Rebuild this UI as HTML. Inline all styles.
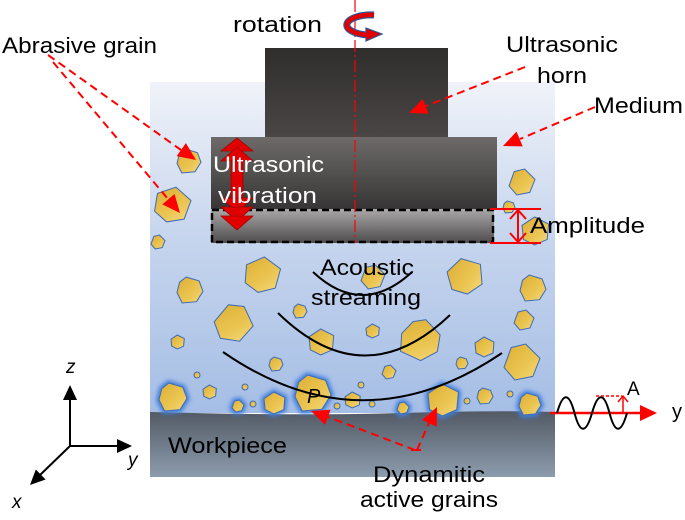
<!DOCTYPE html>
<html><head><meta charset="utf-8"><style>
html,body{margin:0;padding:0;background:#fff;}
svg{display:block;}
text{font-family:"Liberation Sans",sans-serif;}
</style></head><body>
<svg width="685" height="520" viewBox="0 0 685 520" xmlns="http://www.w3.org/2000/svg">
<defs>
<linearGradient id="med" x1="0" y1="0" x2="0" y2="1">
<stop offset="0" stop-color="#f0f3f9"/><stop offset="0.45" stop-color="#c8d6ee"/><stop offset="1" stop-color="#a5bee5"/>
</linearGradient>
<linearGradient id="wp" x1="0" y1="0" x2="0" y2="1">
<stop offset="0" stop-color="#525a64"/><stop offset="1" stop-color="#8d9cae"/>
</linearGradient>
<linearGradient id="h1" x1="0" y1="0" x2="0" y2="1">
<stop offset="0" stop-color="#302d2d"/><stop offset="1" stop-color="#4a4646"/>
</linearGradient>
<linearGradient id="h2" x1="0" y1="0" x2="0" y2="1">
<stop offset="0" stop-color="#6e6a6a"/><stop offset="1" stop-color="#363434"/>
</linearGradient>
<linearGradient id="h3" x1="0" y1="0" x2="0" y2="1">
<stop offset="0" stop-color="#aaa8a8"/><stop offset="1" stop-color="#4d4b4b"/>
</linearGradient>
<linearGradient id="gold" x1="0" y1="0" x2="1" y2="1">
<stop offset="0" stop-color="#dcae34"/><stop offset="0.6" stop-color="#ebc552"/><stop offset="1" stop-color="#f6da80"/>
</linearGradient>
<filter id="blur" x="-50%" y="-50%" width="200%" height="200%"><feGaussianBlur stdDeviation="2.2"/></filter>
<polygon id="g1" points="-3,-10 7,-7 10,1 5,9 -6,10 -10,2 -8,-6" vector-effect="non-scaling-stroke"/>
<polygon id="g2" points="-1,-10 9,-5 8,6 -1,10 -9,6 -10,-4" vector-effect="non-scaling-stroke"/>
<polygon id="g3" points="2,-10 10,-2 6,8 -4,10 -10,3 -6,-8" vector-effect="non-scaling-stroke"/>
</defs>

<!-- medium -->
<rect x="150" y="82" width="405" height="331" fill="url(#med)"/>
<!-- workpiece -->
<path d="M150 412 Q300 416 400 413 T555 412 L555 477 L150 477 Z" fill="url(#wp)"/>

<!-- horn -->
<rect x="265" y="48" width="183" height="90" fill="url(#h1)"/>
<rect x="211" y="137" width="286" height="73" fill="url(#h2)"/>
<rect x="211" y="209" width="283" height="34" fill="url(#h3)"/>
<rect x="212" y="210" width="281" height="32" fill="none" stroke="#000" stroke-width="2.5" stroke-dasharray="7 4"/>

<!-- grains -->
<g fill="url(#gold)" stroke="#3d6bb3" stroke-width="1">
<!-- glows -->
<g fill="#3f7fe0" stroke="none" filter="url(#blur)">
<use href="#g1" transform="translate(173,397) scale(1.7)"/>
<use href="#g3" transform="translate(238,406) scale(0.9)"/>
<use href="#g2" transform="translate(275,403) scale(1.4)"/>
<use href="#g1" transform="translate(313,393) scale(2.1)"/>
<use href="#g2" transform="translate(444,400) scale(1.9)"/>
<use href="#g3" transform="translate(403,408) scale(0.9)"/>
<use href="#g1" transform="translate(530,404) scale(1.4)"/>
</g>
<use href="#g1" transform="translate(189,161) scale(1.2)"/>
<use href="#g2" transform="translate(173,205) rotate(15) scale(1.8)"/>
<use href="#g3" transform="translate(158,242) scale(0.7)"/>
<use href="#g3" transform="translate(522,182) scale(1.3)"/>
<use href="#g1" transform="translate(509,207) scale(0.6)"/>
<use href="#g2" transform="translate(536,231) scale(1.4)"/>
<use href="#g2" transform="translate(263,275) rotate(10) scale(1.8)"/>
<use href="#g1" transform="translate(190,290) scale(1.3)"/>
<use href="#g3" transform="translate(234,323) rotate(20) scale(1.9)"/>
<use href="#g1" transform="translate(300,311) scale(0.7)"/>
<use href="#g2" transform="translate(322,342) scale(1.3)"/>
<use href="#g2" transform="translate(178,342) scale(0.7)"/>
<use href="#g1" transform="translate(276,364) scale(0.7)"/>
<use href="#g2" transform="translate(210,392) scale(0.7)"/>
<use href="#g1" transform="translate(173,397) scale(1.4)"/>
<use href="#g3" transform="translate(238,406) scale(0.6)"/>
<use href="#g2" transform="translate(275,403) scale(1.1)"/>
<use href="#g1" transform="translate(313,393) scale(1.8)"/>
<use href="#g3" transform="translate(373,277) scale(1.2)"/>
<use href="#g2" transform="translate(466,276) rotate(-10) scale(1.8)"/>
<use href="#g1" transform="translate(533,288) scale(1.3)"/>
<use href="#g3" transform="translate(524,320) scale(1.0)"/>
<use href="#g2" transform="translate(373,331) scale(0.7)"/>
<use href="#g1" transform="translate(421,340) rotate(30) scale(2.0)"/>
<use href="#g2" transform="translate(485,347) scale(1.0)"/>
<use href="#g3" transform="translate(522,362) scale(1.8)"/>
<use href="#g1" transform="translate(462,363) scale(0.6)"/>
<use href="#g3" transform="translate(389,372) scale(0.7)"/>
<use href="#g2" transform="translate(353,400) scale(0.8)"/>
<use href="#g2" transform="translate(444,400) scale(1.6)"/>
<use href="#g1" transform="translate(485,396) scale(0.8)"/>
<use href="#g3" transform="translate(403,408) scale(0.6)"/>
<use href="#g1" transform="translate(530,404) scale(1.1)"/>
<circle cx="197" cy="375" r="3"/><circle cx="245" cy="387" r="3"/><circle cx="253" cy="404" r="3"/>
<circle cx="337" cy="406" r="3"/><circle cx="361" cy="385" r="3"/><circle cx="372" cy="404" r="3"/>
<circle cx="467" cy="401" r="3"/><circle cx="510" cy="394" r="3"/>
</g>

<!-- acoustic arcs -->
<g fill="none" stroke="#000" stroke-width="2">
<path d="M313 272 Q362 318 412 272"/>
<path d="M278 313 Q364 397 450 315"/>
<path d="M223 352 Q362 448 502 353"/>
</g>

<!-- center dash-dot line -->
<line x1="355" y1="0" x2="355" y2="243" stroke="#ff0000" stroke-width="1.2" stroke-dasharray="12 3 2 3"/>

<!-- rotation arrow -->
<path d="M374 15 A24 10 0 1 0 368 35" fill="none" stroke="#2f5597" stroke-width="7"/>
<polygon points="366,28 382,34 366,41" fill="#e00000" stroke="#2f5597" stroke-width="1.2"/>
<path d="M374 15 A24 10 0 1 0 368 35" fill="none" stroke="#e00000" stroke-width="4.5"/>

<!-- vibration arrow -->
<g fill="#e00000" stroke="#a00000" stroke-width="0.8">
<rect x="231" y="158" width="12" height="48"/>
<polygon points="237,138 253,151 221,151"/>
<polygon points="237,147 253,161 221,161"/>
<polygon points="221,198 253,198 237,212"/>
<polygon points="221,207 253,207 237,221"/>
<polygon points="221,216 253,216 237,230"/>
</g>

<!-- amplitude -->
<g stroke="#ff0000" stroke-width="2" fill="none">
<line x1="490" y1="209" x2="541" y2="209"/>
<line x1="490" y1="243" x2="541" y2="243"/>
<line x1="518" y1="210" x2="518" y2="242"/>
<polyline points="510,219 518,210 526,219"/>
<polyline points="510,233 518,242 526,233"/>
</g>

<!-- red dashed arrows -->
<g stroke="#ff0000" stroke-width="2" stroke-dasharray="8 5" fill="none">
<line x1="48" y1="55" x2="181" y2="150"/>
<line x1="53" y1="62" x2="168" y2="199"/>
<line x1="525" y1="67" x2="426" y2="106"/>
<line x1="595" y1="107" x2="520" y2="139"/>
<line x1="415" y1="450" x2="328" y2="417"/>
<line x1="417" y1="450" x2="429" y2="423"/>
</g>
<line x1="411" y1="450" x2="421" y2="450" stroke="#ff0000" stroke-width="2"/>
<g fill="#ff0000">
<polygon points="196,160 176.7,156.1 185.9,143.1"/>
<polygon points="180,213 162.3,204.4 174.5,194.0"/>
<polygon points="409,113 422.7,99.0 428.7,113.8"/>
<polygon points="503,146 516.5,131.6 522.7,146.4"/>
<polygon points="311,411 330.6,409.8 325.0,424.8"/>
<polygon points="437,407 436.7,426.7 422.1,419.9"/>
</g>

<!-- wave -->
<line x1="550" y1="413" x2="642" y2="413" stroke="#ff0000" stroke-width="2.5"/>
<polygon points="657,413 640,405 640,421" fill="#ff0000"/>
<path d="M557 413 C563 392 569 392 574.5 413 C580 434 586 434 592 413 C598 392 604 392 609.5 413 C615 434 621 434 627 413" fill="none" stroke="#000" stroke-width="2"/>
<line x1="596" y1="396" x2="622" y2="396" stroke="#ff0000" stroke-width="1.5" stroke-dasharray="3 2"/>
<line x1="623" y1="413" x2="623" y2="397" stroke="#ff0000" stroke-width="1.5"/>
<polyline points="618,402 623,396 628,402" fill="none" stroke="#ff0000" stroke-width="1.5"/>

<!-- axes -->
<g stroke="#000" stroke-width="2">
<line x1="70" y1="446" x2="70" y2="398"/>
<line x1="70" y1="446" x2="118" y2="446"/>
<line x1="70" y1="446" x2="40" y2="475"/>
</g>
<g fill="#000">
<polygon points="70,385 63,400 77,400"/>
<polygon points="132,446 117,439 117,453"/>
<polygon points="30,485 45.6,479.5 35.8,469.5"/>
</g>

<!-- text -->
<g font-size="22" fill="#000">
<text x="233" y="32" textLength="89" lengthAdjust="spacingAndGlyphs">rotation</text>
<text x="2" y="53" textLength="155" lengthAdjust="spacingAndGlyphs">Abrasive grain</text>
<text x="506" y="52" textLength="112" lengthAdjust="spacingAndGlyphs">Ultrasonic</text>
<text x="537" y="83" textLength="50" lengthAdjust="spacingAndGlyphs">horn</text>
<text x="594" y="113" textLength="89" lengthAdjust="spacingAndGlyphs">Medium</text>
<text x="530" y="233" textLength="115" lengthAdjust="spacingAndGlyphs">Amplitude</text>
<text x="320" y="275" textLength="94" lengthAdjust="spacingAndGlyphs">Acoustic</text>
<text x="311" y="305" textLength="110" lengthAdjust="spacingAndGlyphs">streaming</text>
<text x="168" y="453" textLength="119" lengthAdjust="spacingAndGlyphs">Workpiece</text>
<text x="373" y="482" textLength="112" lengthAdjust="spacingAndGlyphs">Dynamitic</text>
<text x="360" y="507" textLength="138" lengthAdjust="spacingAndGlyphs">active grains</text>
<text x="627" y="395" font-size="19">A</text>
<text x="672" y="418" font-size="20">y</text>
<text x="307" y="403" font-size="20" font-style="italic">P</text>
<text x="66" y="373" font-size="19" font-style="italic">z</text>
<text x="128" y="466" font-size="19" font-style="italic">y</text>
<text x="12" y="508" font-size="19" font-style="italic">x</text>
</g>
<g font-size="22" fill="#fff">
<text x="213" y="172" textLength="111" lengthAdjust="spacingAndGlyphs">Ultrasonic</text>
<text x="218" y="203" textLength="99" lengthAdjust="spacingAndGlyphs">vibration</text>
</g>
</svg>
</body></html>
